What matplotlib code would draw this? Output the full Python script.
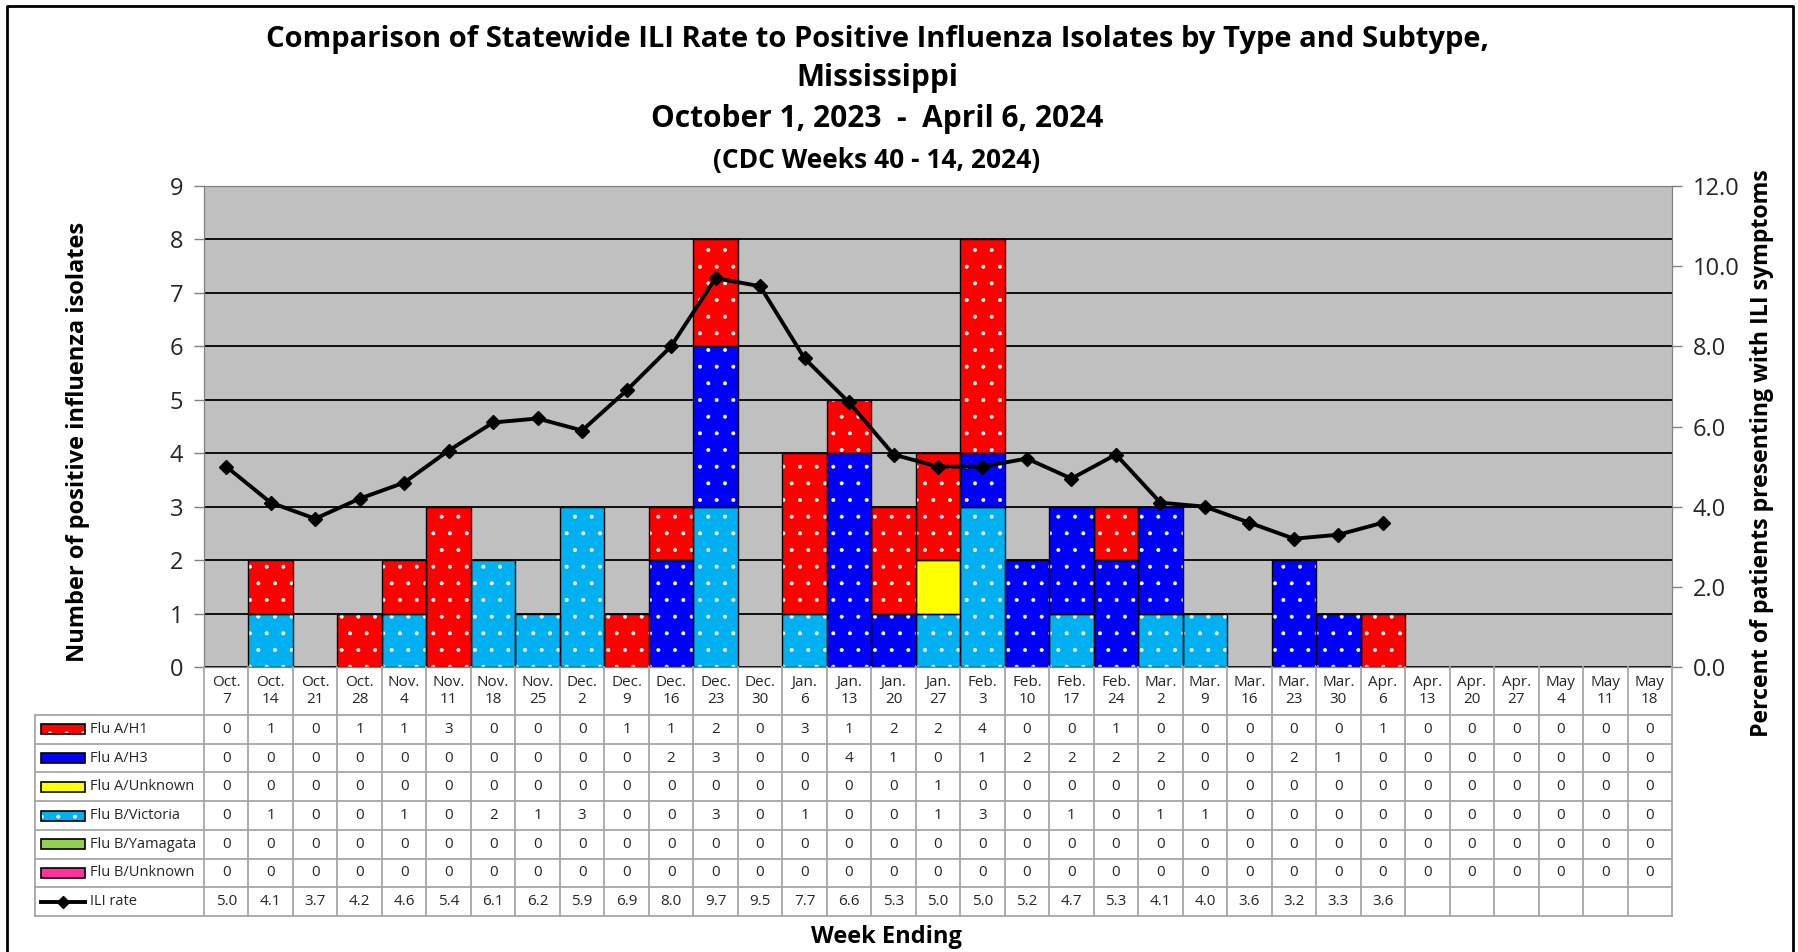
import numpy as np
import matplotlib.pyplot as plt
from matplotlib.patches import Rectangle
from matplotlib.lines import Line2D
from matplotlib.ticker import FormatStrFormatter

plt.rcParams['font.family'] = ['Open Sans', 'DejaVu Sans']
plt.rcParams['hatch.linewidth'] = 0.4

# data
weeks = ["Oct.\n7", "Oct.\n14", "Oct.\n21", "Oct.\n28", "Nov.\n4", "Nov.\n11", "Nov.\n18",
         "Nov.\n25", "Dec.\n2", "Dec.\n9", "Dec.\n16", "Dec.\n23", "Dec.\n30", "Jan.\n6",
         "Jan.\n13", "Jan.\n20", "Jan.\n27", "Feb.\n3", "Feb.\n10", "Feb.\n17", "Feb.\n24",
         "Mar.\n2", "Mar.\n9", "Mar.\n16", "Mar.\n23", "Mar.\n30", "Apr.\n6", "Apr.\n13",
         "Apr.\n20", "Apr.\n27", "May\n4", "May\n11", "May\n18"]
flu_a_h1 = [0, 1, 0, 1, 1, 3, 0, 0, 0, 1, 1, 2, 0, 3, 1, 2, 2, 4, 0, 0, 1, 0, 0, 0, 0, 0, 1,
            0, 0, 0, 0, 0, 0]
flu_a_h3 = [0, 0, 0, 0, 0, 0, 0, 0, 0, 0, 2, 3, 0, 0, 4, 1, 0, 1, 2, 2, 2, 2, 0, 0, 2, 1, 0,
            0, 0, 0, 0, 0, 0]
flu_a_unknown = [0, 0, 0, 0, 0, 0, 0, 0, 0, 0, 0, 0, 0, 0, 0, 0, 1, 0, 0, 0, 0, 0, 0, 0, 0, 0, 0,
                 0, 0, 0, 0, 0, 0]
flu_b_victoria = [0, 1, 0, 0, 1, 0, 2, 1, 3, 0, 0, 3, 0, 1, 0, 0, 1, 3, 0, 1, 0, 1, 1, 0, 0, 0, 0,
                  0, 0, 0, 0, 0, 0]
flu_b_yamagata = [0] * 33
flu_b_unknown = [0] * 33
ili_rate = [5.0, 4.1, 3.7, 4.2, 4.6, 5.4, 6.1, 6.2, 5.9, 6.9, 8.0, 9.7, 9.5, 7.7, 6.6, 5.3,
            5.0, 5.0, 5.2, 4.7, 5.3, 4.1, 4.0, 3.6, 3.2, 3.3, 3.6]

series = [("Flu A/H1", flu_a_h1, "#FF0000", True),
          ("Flu A/H3", flu_a_h3, "#0000FF", True),
          ("Flu A/Unknown", flu_a_unknown, "#FFFF00", False),
          ("Flu B/Victoria", flu_b_victoria, "#00B0F0", True),
          ("Flu B/Yamagata", flu_b_yamagata, "#92D050", True),
          ("Flu B/Unknown", flu_b_unknown, "#FF3399", True)]
# bottom to top order of the stack
stack_order = ["Flu B/Unknown", "Flu B/Yamagata", "Flu B/Victoria", "Flu A/Unknown",
               "Flu A/H3", "Flu A/H1"]

W, H = 1798, 952
fig = plt.figure(figsize=(W / 100, H / 100), dpi=100)


def box(l, t, r, b):
    return [l / W, 1 - b / H, (r - l) / W, (b - t) / H]


n = len(weeks)
x = np.arange(n)
grey = "#808080"
txt = "#262626"

ax = fig.add_axes(box(204, 186, 1672, 667))
ax.set_facecolor("#C0C0C0")
ax.set_xlim(-0.5, n - 0.5)
ax.set_ylim(0, 9)
ax.set_yticks(range(10))
ax.set_xticks([])
ax.yaxis.grid(True, color="black", lw=1.3)
ax.set_axisbelow(True)
ax.tick_params(axis="y", length=7, width=1, color=grey, labelsize=17, labelcolor=txt, pad=8)
for s in ax.spines.values():
    s.set_color(grey)

lookup = {name: (vals, col, dots) for name, vals, col, dots in series}
bottom = np.zeros(n)
for name in stack_order:
    vals, col, dots = lookup[name]
    v = np.array(vals, dtype=float)
    m = v > 0
    if m.any():
        ax.bar(x[m], v[m], bottom=bottom[m], width=1.0, color=col,
               edgecolor="white", hatch="." if dots else None, lw=0, zorder=2)
        ax.bar(x[m], v[m], bottom=bottom[m], width=1.0, fill=False,
               edgecolor="black", lw=1, zorder=3)
    bottom += v

ax2 = ax.twinx()
ax2.set_xlim(-0.5, n - 0.5)
ax2.set_ylim(0, 12)
ax2.set_yticks(np.arange(0, 13, 2))
ax2.yaxis.set_major_formatter(FormatStrFormatter("%.1f"))
ax2.tick_params(axis="y", length=7, width=1, color=grey, labelsize=17, labelcolor=txt, pad=8)
for s in ax2.spines.values():
    s.set_color(grey)
ax2.plot(x[:len(ili_rate)], ili_rate, color="black", lw=2.8, marker="D", ms=7, zorder=5)

# data table below the plot
u = (1672 - 204) / n
rowpx = 28.7
head = 48 / rowpx
tab = fig.add_axes(box(204, 667, 1672, 916))
tab.set_xlim(-0.5, n - 0.5)
tab.set_ylim(0, 7 + head)
tab.axis("off")
lc = "#A6A6A6"
left = -0.5 + (35 - 204) / u
for i in range(n + 1):
    tab.plot([i - 0.5, i - 0.5], [0, 7 + head], color=lc, lw=1.3, clip_on=False)
tab.plot([left, left], [0, 7], color=lc, lw=1.3, clip_on=False)
for j in range(8):
    tab.plot([left, n - 0.5], [j, j], color=lc, lw=1.3, clip_on=False)

fs = 11
for i, w in enumerate(weeks):
    tab.text(i, 7 + head / 2, w, ha="center", va="center", fontsize=fs,
             color=txt, linespacing=1.15)

kx0 = -0.5 + (41 - 204) / u
kw = 44 / u
kh = 10 / rowpx
lx = -0.5 + (90 - 204) / u
for r, (name, vals, col, dots) in enumerate(series):
    yc = 7 - r - 0.5
    tab.add_patch(Rectangle((kx0, yc - kh / 2), kw, kh, facecolor=col, edgecolor="white",
                            hatch="." if dots else None, lw=0, clip_on=False))
    tab.add_patch(Rectangle((kx0, yc - kh / 2), kw, kh, fill=False, edgecolor="black",
                            lw=1.2, clip_on=False))
    tab.text(lx, yc, name, ha="left", va="center", fontsize=10.5, color=txt)
    for i, v in enumerate(vals):
        tab.text(i, yc, str(v), ha="center", va="center", fontsize=fs, color=txt)

yc = 0.5
tab.add_line(Line2D([kx0, kx0 + kw], [yc, yc], color="black", lw=2.8, clip_on=False))
tab.add_line(Line2D([kx0 + kw / 2], [yc], color="black", marker="D", ms=6, clip_on=False))
tab.text(lx, yc, "ILI rate", ha="left", va="center", fontsize=10.5, color=txt)
for i, v in enumerate(ili_rate):
    tab.text(i, yc, f"{v:.1f}", ha="center", va="center", fontsize=fs, color=txt)

# titles and axis labels
cx = 877 / W
fig.text(cx, 1 - 40 / H, "Comparison of Statewide ILI Rate to Positive Influenza Isolates by Type and Subtype,",
         ha="center", va="center", fontsize=21, fontweight="bold", color="black")
fig.text(cx, 1 - 78 / H, "Mississippi", ha="center", va="center", fontsize=21.5,
         fontweight="bold", color="black")
fig.text(cx, 1 - 119 / H, "October 1, 2023  -  April 6, 2024", ha="center", va="center",
         fontsize=21.5, fontweight="bold", color="black")
fig.text(cx, 1 - 160 / H, "(CDC Weeks 40 - 14, 2024)", ha="center", va="center",
         fontsize=19, fontweight="bold", color="black")
fig.text(78 / W, 1 - 442 / H, "Number of positive influenza isolates", rotation=90,
         ha="center", va="center", fontsize=17, fontweight="bold", color="black")
fig.text(1762 / W, 1 - 453 / H, "Percent of patients presenting with ILI symptoms", rotation=90,
         ha="center", va="center", fontsize=16.7, fontweight="bold", color="black")
fig.text(886 / W, 1 - 937 / H, "Week Ending", ha="center", va="center", fontsize=17,
         fontweight="bold", color="black")

# outer chart border (bottom edge cut off in the original)
fig.add_artist(Line2D([7 / W, 7 / W, 1793 / W, 1793 / W], [0, 1 - 6 / H, 1 - 6 / H, 0],
                      transform=fig.transFigure, color="black", lw=2))

fig.savefig("out.png", dpi=100)
